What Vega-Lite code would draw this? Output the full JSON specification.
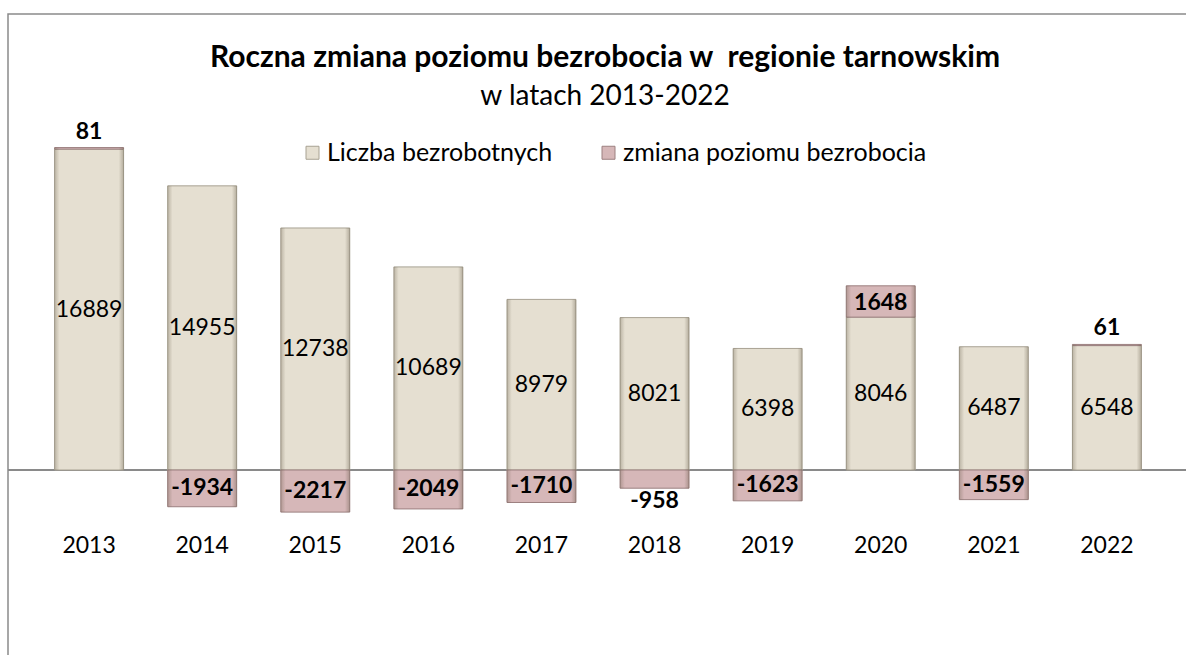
{
  "$schema": "https://vega.github.io/schema/vega-lite/v6.json",
  "width": 1180,
  "height": 646,
  "autosize": "none",
  "padding": {"left": 8, "top": 14, "right": -2, "bottom": -5},
  "background": "white",
  "title": {
    "text": "Roczna zmiana poziomu bezrobocia w\u00a0 regionie tarnowskim",
    "subtitle": "w latach 2013-2022",
    "anchor": "middle",
    "frame": "group",
    "orient": "top",
    "offset": -97,
    "dx": 7,
    "font": "Lato",
    "fontSize": 30,
    "fontWeight": "bold",
    "color": "#000000",
    "subtitleFont": "Lato",
    "subtitleFontSize": 28,
    "subtitleColor": "#000000",
    "subtitlePadding": 10
  },
  "data": {
    "values": [
      {"year": "2013", "series": "Liczba bezrobotnych", "value": 16889},
      {"year": "2014", "series": "Liczba bezrobotnych", "value": 14955},
      {"year": "2015", "series": "Liczba bezrobotnych", "value": 12738},
      {"year": "2016", "series": "Liczba bezrobotnych", "value": 10689},
      {"year": "2017", "series": "Liczba bezrobotnych", "value": 8979},
      {"year": "2018", "series": "Liczba bezrobotnych", "value": 8021},
      {"year": "2019", "series": "Liczba bezrobotnych", "value": 6398},
      {"year": "2020", "series": "Liczba bezrobotnych", "value": 8046},
      {"year": "2021", "series": "Liczba bezrobotnych", "value": 6487},
      {"year": "2022", "series": "Liczba bezrobotnych", "value": 6548},
      {"year": "2013", "series": "zmiana poziomu bezrobocia", "value": 81},
      {"year": "2014", "series": "zmiana poziomu bezrobocia", "value": -1934},
      {"year": "2015", "series": "zmiana poziomu bezrobocia", "value": -2217},
      {"year": "2016", "series": "zmiana poziomu bezrobocia", "value": -2049},
      {"year": "2017", "series": "zmiana poziomu bezrobocia", "value": -1710},
      {"year": "2018", "series": "zmiana poziomu bezrobocia", "value": -958},
      {"year": "2019", "series": "zmiana poziomu bezrobocia", "value": -1623},
      {"year": "2020", "series": "zmiana poziomu bezrobocia", "value": 1648},
      {"year": "2021", "series": "zmiana poziomu bezrobocia", "value": -1559},
      {"year": "2022", "series": "zmiana poziomu bezrobocia", "value": 61}
    ]
  },
  "transform": [
    {"stack": "value", "groupby": ["year"], "sort": [{"field": "series", "order": "ascending"}], "as": ["v0", "v1"]}
  ],
  "encoding": {
    "x": {
      "field": "year",
      "type": "ordinal",
      "scale": {"paddingInner": 0.39, "paddingOuter": 0.412},
      "axis": {
        "title": null,
        "orient": "bottom",
        "offset": -126,
        "domain": false,
        "ticks": false,
        "labelAngle": 0,
        "labelFont": "Lato",
        "labelFontSize": 23,
        "labelColor": "#000000",
        "labelPadding": 0
      }
    }
  },
  "layer": [
    {
      "mark": {"type": "rule", "color": "#8a8a8a", "strokeWidth": 2},
      "encoding": {
        "x": null,
        "y": {"datum": 0, "type": "quantitative", "scale": {"domain": [-10000, 24000]}, "axis": null}
      }
    },
    {
      "mark": {"type": "bar", "strokeWidth": 1},
      "encoding": {
        "y": {"field": "v0", "type": "quantitative", "scale": {"domain": [-10000, 24000]}, "axis": null},
        "y2": {"field": "v1"},
        "color": {
          "field": "series",
          "type": "nominal",
          "scale": {"domain": ["Liczba bezrobotnych", "zmiana poziomu bezrobocia"], "range": ["#E5DFD1", "#D6B7B8"]},
          "legend": {
            "title": null,
            "orient": "none",
            "direction": "horizontal",
            "legendX": 292,
            "legendY": 126,
            "padding": 0,
            "symbolType": "square",
            "symbolSize": 169,
            "symbolStrokeWidth": 1,
            "symbolStrokeColor": "#9a9488",
            "labelFont": "Lato",
            "labelFontSize": 25,
            "labelColor": "#000000",
            "labelOffset": 2,
            "columnPadding": 43,
            "labelLimit": 400
          }
        },
        "stroke": {
          "field": "series",
          "type": "nominal",
          "scale": {"domain": ["Liczba bezrobotnych", "zmiana poziomu bezrobocia"], "range": ["#A8A293", "#9C8080"]},
          "legend": null
        }
      }
    },
    {
      "mark": {
        "type": "bar",
        "color": {
          "gradient": "linear",
          "x1": 0, "x2": 1, "y1": 0, "y2": 0,
          "stops": [
            {"offset": 0, "color": "rgba(90,80,60,0.30)"},
            {"offset": 0.07, "color": "rgba(90,80,60,0.0)"},
            {"offset": 0.93, "color": "rgba(90,80,60,0.0)"},
            {"offset": 1, "color": "rgba(90,80,60,0.35)"}
          ]
        }
      },
      "encoding": {
        "y": {"field": "v0", "type": "quantitative", "scale": {"domain": [-10000, 24000]}, "axis": null},
        "y2": {"field": "v1"}
      }
    },
    {
      "transform": [{"filter": "datum.series == 'Liczba bezrobotnych'"}],
      "mark": {"type": "text", "font": "Lato", "fontSize": 23, "color": "#000000", "baseline": "middle"},
      "encoding": {
        "y": {"field": "value", "type": "quantitative", "scale": {"domain": [-20000, 48000]}, "axis": null},
        "text": {"field": "value", "type": "nominal"}
      }
    },
    {
      "transform": [{"filter": "datum.series == 'zmiana poziomu bezrobocia' && datum.value <= -1000"}],
      "mark": {"type": "text", "font": "Lato", "fontSize": 23, "fontWeight": "bold", "color": "#000000", "baseline": "middle"},
      "encoding": {
        "y": {"field": "value", "type": "quantitative", "scale": {"domain": [-20000, 48000]}, "axis": null},
        "text": {"field": "value", "type": "nominal"}
      }
    },
    {
      "transform": [{"filter": "datum.series == 'zmiana poziomu bezrobocia' && datum.value < 0 && datum.value > -1000"}],
      "mark": {"type": "text", "font": "Lato", "fontSize": 23, "fontWeight": "bold", "color": "#000000", "baseline": "top", "dy": 2},
      "encoding": {
        "y": {"field": "v1", "type": "quantitative", "scale": {"domain": [-10000, 24000]}, "axis": null},
        "text": {"field": "value", "type": "nominal"}
      }
    },
    {
      "transform": [{"filter": "datum.series == 'zmiana poziomu bezrobocia' && datum.value > 0 && datum.value < 1000"}],
      "mark": {"type": "text", "font": "Lato", "fontSize": 23, "fontWeight": "bold", "color": "#000000", "baseline": "bottom", "dy": -4},
      "encoding": {
        "y": {"field": "v1", "type": "quantitative", "scale": {"domain": [-10000, 24000]}, "axis": null},
        "text": {"field": "value", "type": "nominal"}
      }
    },
    {
      "transform": [{"filter": "datum.series == 'zmiana poziomu bezrobocia' && datum.value >= 1000"}],
      "mark": {"type": "text", "font": "Lato", "fontSize": 23, "fontWeight": "bold", "color": "#000000", "baseline": "top", "dy": 6},
      "encoding": {
        "y": {"field": "v1", "type": "quantitative", "scale": {"domain": [-10000, 24000]}, "axis": null},
        "text": {"field": "value", "type": "nominal"}
      }
    }
  ],
  "resolve": {"scale": {"y": "independent"}},
  "config": {
    "view": {"stroke": "#8a8a8a", "strokeWidth": 1.5},
    "font": "Lato"
  }
}
